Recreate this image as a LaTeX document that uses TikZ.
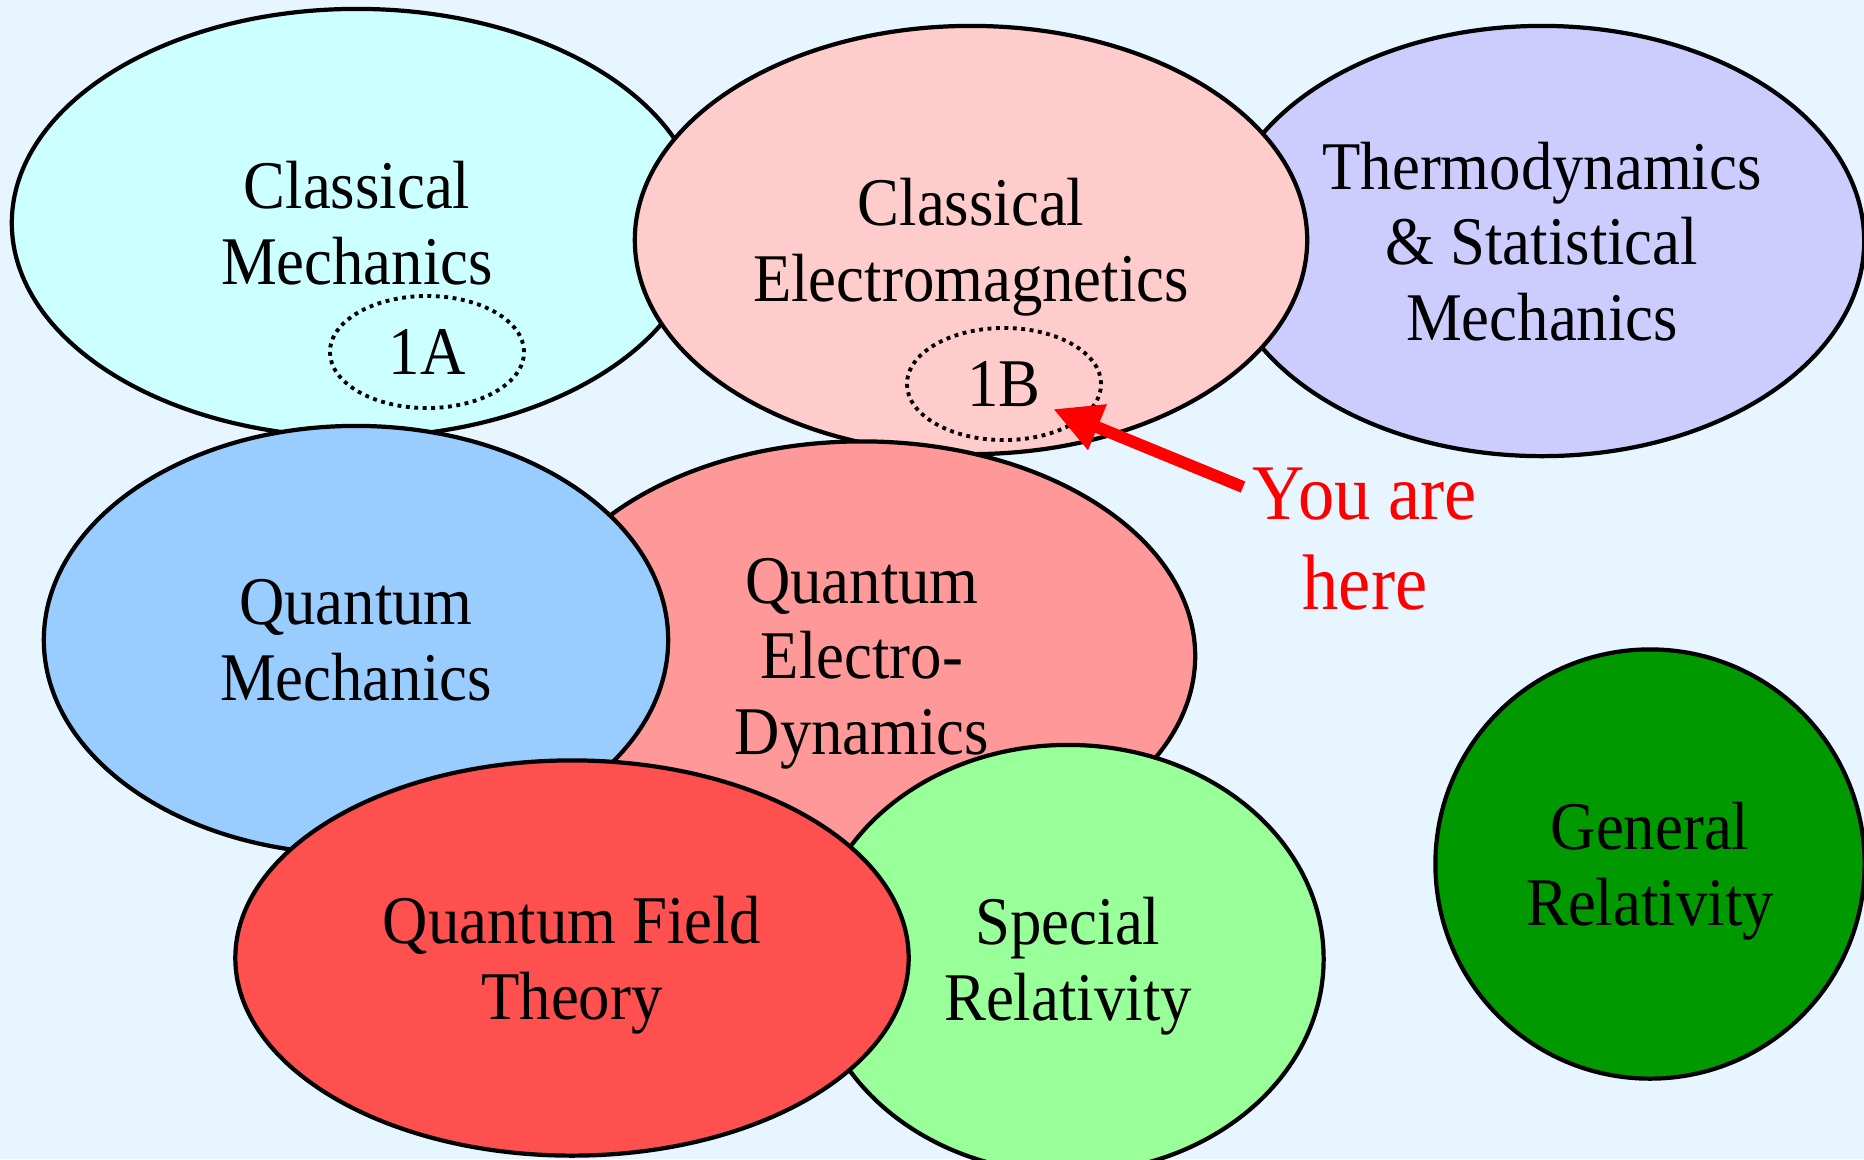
\documentclass[tikz,border=0pt]{standalone}
\usepackage{tikz}
\usetikzlibrary{shapes,arrows.meta,positioning,calc}
\usepackage{xcolor}
\usepackage{fontspec}
\setmainfont{Liberation Serif}[FakeStretch=0.92]
\definecolor{backdrop}{HTML}{E6F5FF}
\definecolor{classmech}{HTML}{CCFFFF}
\definecolor{classem}{HTML}{FFCCCC}
\definecolor{thermo}{HTML}{CCCCFF}
\definecolor{quantmech}{HTML}{99CCFF}
\definecolor{qed}{HTML}{FF9999}
\definecolor{qft}{HTML}{FF5050}
\definecolor{specrel}{HTML}{99FF99}
\definecolor{genrel}{HTML}{009900}
\definecolor{herered}{HTML}{FF0000}

\begin{document}
\begin{tikzpicture}[x=0.01cm, y=-0.01cm,
  topic/.style={ellipse, draw, line width=1.2pt, fill=#1, inner sep=0pt, align=center, text depth=-2pt, font=\fontsize{19.4pt}{21.5pt}\selectfont},
  part/.style={ellipse, draw, line width=1.1pt, dash pattern=on 1.1pt off 1.3pt, inner sep=0pt, minimum width=1.94cm, minimum height=1.12cm, font=\fontsize{19.4pt}{21pt}\selectfont},
  arr/.style={-{Triangle[length=4.8mm, width=4.6mm]}, line width=3.4pt, herered}
]
  \fill[backdrop] (0,0) rectangle (1864,1159);
  \clip (0,0) rectangle (1864,1159);
  \useasboundingbox (0,0) rectangle (1864,1159);
  \node[topic=classmech, minimum width=6.9cm, minimum height=4.28cm] (cm) at (357,223) {Classical\\Mechanics};
  \node[topic=thermo, minimum width=6.44cm, minimum height=4.3cm] (thermo) at (1542,241) {Thermodynamics\\\& Statistical\\Mechanics};
  \node[topic=classem, minimum width=6.72cm, minimum height=4.28cm] (em) at (971,240) {Classical\\Electromagnetics};
  \node[part] (partA) at (427,352) {1A};
  \node[part] (partB) at (1004,384) {1B};
  \node[topic=qed, minimum width=6.66cm, minimum height=4.29cm] (qed) at (862,656) {Quantum\\Electro-\\Dynamics};
  \node[topic=quantmech, minimum width=6.24cm, minimum height=4.28cm] (qm) at (356,640) {Quantum\\Mechanics};
  \node[topic=specrel, minimum width=5.11cm, minimum height=4.28cm] (sr) at (1068,959) {Special\\Relativity};
  \node[topic=qft, minimum width=6.73cm, minimum height=3.95cm] (qft) at (572,958) {Quantum Field\\Theory};
  \node[topic=genrel, minimum width=4.29cm, minimum height=4.29cm] (gr) at (1650,864) {General\\Relativity};
  \node[align=center, herered, inner sep=0pt, font=\fontsize{22.4pt}{25.6pt}\selectfont] (here) at (1365,539) {You are\\here};
  \coordinate (tail) at (1243,487);
  \coordinate (tip) at (1053,409);
  \draw[arr] (tail) -- (tip);
\end{tikzpicture}
\end{document}
